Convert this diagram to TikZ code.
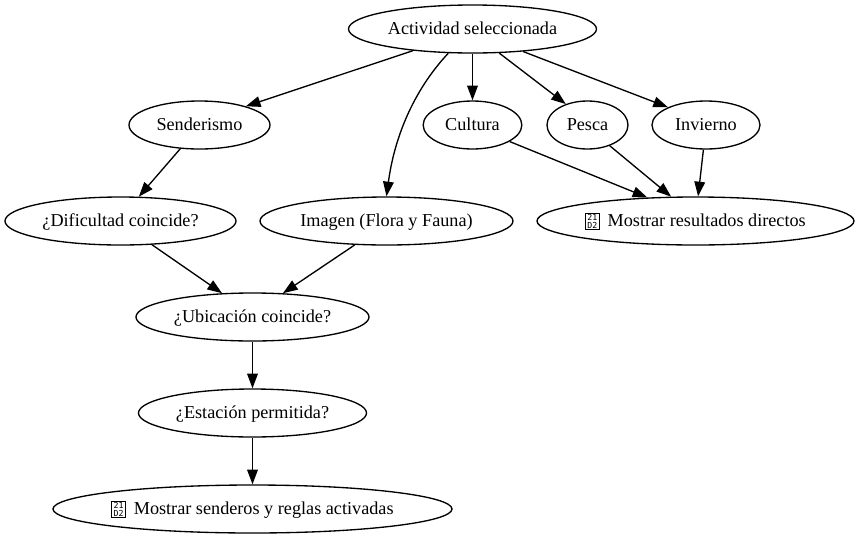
\documentclass[tikz,border=0pt]{standalone}
\usepackage{fontspec}
\setmainfont{Liberation Serif}
\newfontfamily\tofufont{DejaVu Sans Mono}
\usepackage{tikz}
\usetikzlibrary{shapes.geometric,arrows.meta}

% box that the reference prints for the missing arrow glyph
\newcommand{\tofubox}{\raisebox{0.2bp}{\setlength{\fboxsep}{0.6bp}\setlength{\fboxrule}{0.4bp}\fbox{\parbox[c][10.6bp][c]{8.8bp}{\centering\tofufont\fontsize{6.2bp}{5.8bp}\selectfont 21\\D2}}}\hspace{2.6bp}}

\tikzset{
  state/.style={shape=ellipse,draw=black,line width=1bp,inner sep=0pt,minimum height=36bp,text height=10bp,text depth=2bp,font=\fontsize{13.65bp}{16bp}\selectfont},
  flow/.style={-{Triangle[length=11bp,width=8bp]},line width=1bp,black}
}

\begin{document}
\begin{tikzpicture}[x=0.75bp,y=-0.75bp]
\useasboundingbox (0,0) rectangle (859,539);

\node[state,minimum width=186bp] (act) at (472.5,29) {Actividad seleccionada};

\node[state,minimum width=105.75bp] (sen) at (199.5,125) {Senderismo};
\node[state,minimum width=74bp] (cul) at (472.5,125) {Cultura};
\node[state,minimum width=60.75bp] (pes) at (587.5,125) {Pesca};
\node[state,minimum width=81bp] (inv) at (706,125) {Invierno};

\node[state,minimum width=173.25bp] (dif) at (120.5,221) {¿Dificultad coincide?};
\node[state,minimum width=189.75bp] (ima) at (386.5,221) {Imagen (Flora y Fauna)};
\node[state,minimum width=237.75bp] (res) at (695.5,221) {\tofubox{} Mostrar resultados directos};

\node[state,minimum width=174.75bp] (ubi) at (252.5,317) {¿Ubicación coincide?};
\node[state,minimum width=171bp] (est) at (252.5,413) {¿Estación permitida?};
\node[state,minimum width=299.25bp] (sal) at (252.5,509) {\tofubox{} Mostrar senderos y reglas activadas};

\draw[flow] (act.200.8) -- (sen.22.7);
\draw[flow] (act.225) .. controls (412,92) and (394,140) .. (ima.north);
\draw[flow] (act.south) -- (cul.north);
\draw[flow] (act.-42.6) -- (pes.136.2);
\draw[flow] (act.-24.5) -- (inv.155.3);

\draw[flow] (sen.231.5) -- (dif.53);
\draw[flow] (cul.-24.6) -- (res.154.5);
\draw[flow] (pes.-43.8) -- (res.135);
\draw[flow] (inv.-96.6) -- (res.84.5);

\draw[flow] (dif.-37) -- (ubi.142);
\draw[flow] (ima.217.6) -- (ubi.38.3);
\draw[flow] (ubi.south) -- (est.north);
\draw[flow] (est.south) -- (sal.north);

\end{tikzpicture}
\end{document}
